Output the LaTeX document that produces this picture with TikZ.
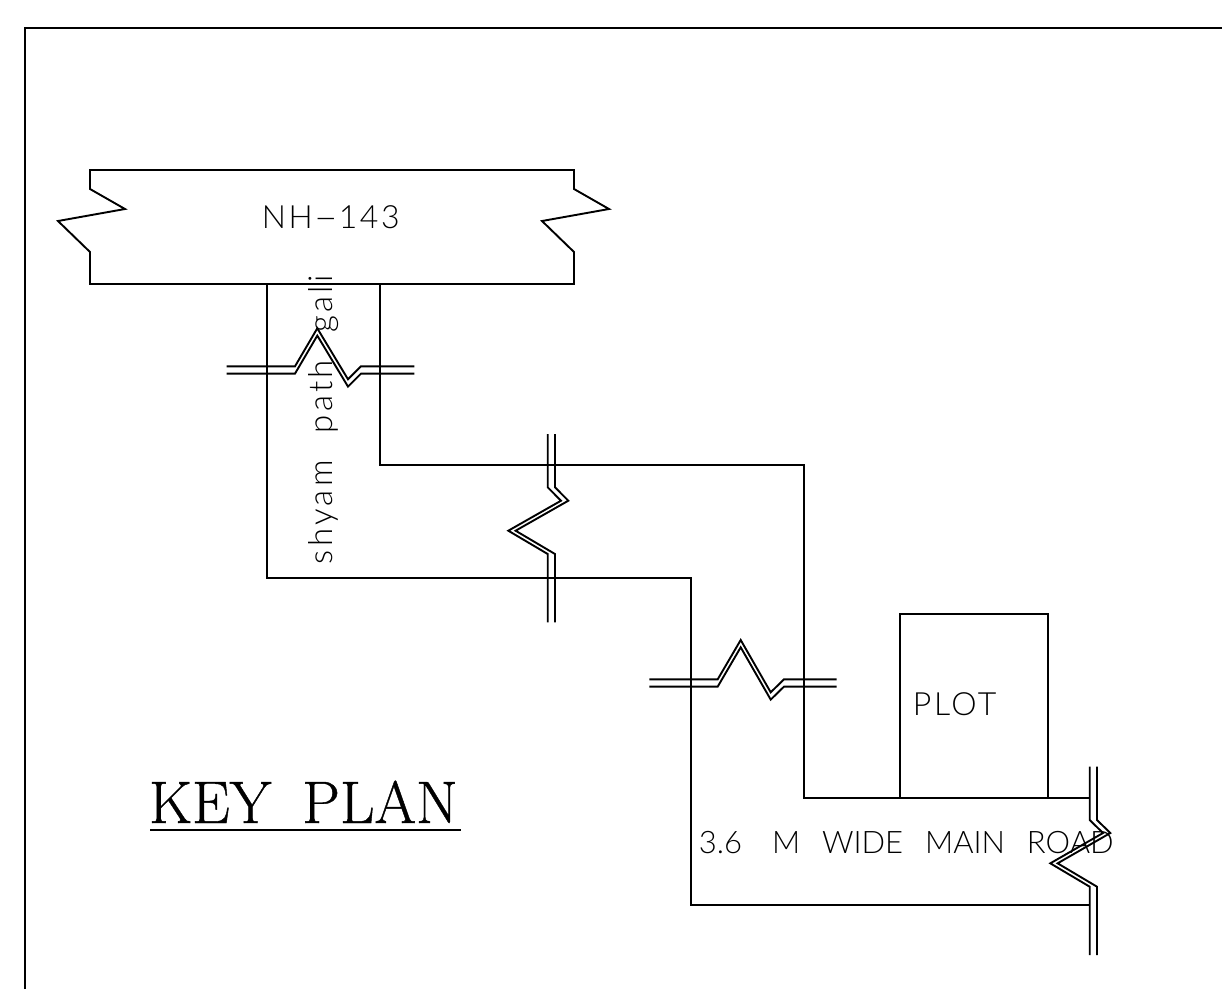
\documentclass[tikz,border=0pt]{standalone}
\usepackage{fontspec}
\newfontfamily\cadfont[LetterSpace=8]{Lato Light}
\newfontfamily\capsfont[WordSpace=2.6]{Lato Light}
\newfontfamily\widefont[LetterSpace=10,WordSpace=2.2]{Lato Light}
\newfontfamily\titlefont[FakeBold=0.7]{Latin Modern Roman}
\begin{document}
\begin{tikzpicture}[x=1pt,y=-1pt,line width=1.9pt,miter limit=10,
            label node/.style={font=\cadfont\fontsize{32}{32}\selectfont,inner sep=0pt,anchor=base west},
            road node/.style={font=\capsfont\fontsize{31}{31}\selectfont,inner sep=0pt,anchor=base west},
            path node/.style={font=\widefont\fontsize{33}{33}\selectfont,inner sep=0pt,anchor=base west},
            title node/.style={font=\titlefont\fontsize{60}{60}\selectfont,inner sep=0pt,anchor=base west}]

        \useasboundingbox (0,0) rectangle (1222,989);

        % Define outer sheet
        \draw (25,989) -- (25,28) -- (1222,28);

        % Draw breaks
        \foreach \d in {0,7.3} {
            \draw[yshift=-\d pt] (226.7,366.3) -- (295,366.3) -- (317.3,328.3) -- (348,379.3) -- (361,366.3) -- (414.3,366.3);
            \draw[yshift=-\d pt] (649.3,679.3) -- (717.7,679.3) -- (740.7,640) -- (770.7,692.3) -- (784,679.3) -- (836.7,679.3);
            \draw[xshift=\d pt] (547.7,434) -- (547.7,487.3) -- (561,500.7) -- (508.3,530.7) -- (547.7,554) -- (547.7,622.3);
            \draw[xshift=\d pt] (1089.7,766.7) -- (1089.7,820) -- (1103,833) -- (1050.3,863.3) -- (1089.7,886.7) -- (1089.7,955);
        }

        % Draw roads
        \draw (90,170) -- (90,189) -- (125,209) -- (58,221) -- (90,252) -- (90,284) -- (574,284) -- (574,252)
            -- (542,221) -- (609,209) -- (574,189) -- (574,170) -- cycle;
        \draw (267,284) -- (267,578) -- (691,578) -- (691,905) -- (1090,905);
        \draw (380,284) -- (380,465) -- (804,465) -- (804,798) -- (1090,798);
        \draw (900,798) -- (900,614) -- (1048,614) -- (1048,798);

        % Define labels
        \node[label node] (nh) at (261,228) {NH\scalebox{2.2}[1]{-}143};
        \node[path node,rotate=90] (shyam) at (332,565) {shyam path gali};
        \node[label node] (plot) at (912,715) {PLOT};
        \node[road node] (mainroad) at (698,853) {3.6\hspace{8pt} M WIDE MAIN ROAD};
        \node[title node] (keyplan) at (148,823) {KEY\hspace{31pt}PLAN};
        \coordinate (keyleft) at (150,830);
        \coordinate (keyright) at (461,830);
        \draw (keyleft) -- (keyright);

\end{tikzpicture}
\end{document}
